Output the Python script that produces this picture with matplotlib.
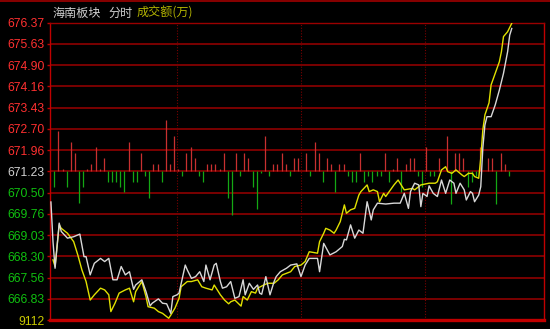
import matplotlib
matplotlib.use('Agg')

from matplotlib import pyplot as plt
from matplotlib.lines import Line2D
import numpy as np

# price grid (prev close in the middle)
prev_close = 671.23
step = 0.7343
price_labels = ['666.83', '667.56', '668.30', '669.03', '669.76', '670.50',
                '671.23', '671.96', '672.70', '673.43', '674.16', '674.90',
                '675.63', '676.37']
amt_max = 9112

# 海南板块 (white) minute -> price
white_t = [-1, 0, 1, 3, 4, 7, 10, 13, 15, 16, 18, 20, 23, 25, 27, 29, 31, 33, 35, 37,
           39, 40, 43, 45, 47, 48, 51, 53, 55, 57, 58, 60, 61, 64, 65, 67, 69, 71, 73, 74,
           76, 78, 79, 81, 82, 84, 86, 88, 90, 92, 93, 95, 97, 99, 100, 101, 103, 105, 107, 108,
           110, 113, 115, 118, 120, 122, 124, 128, 129, 131, 134, 137, 140, 141, 142, 144, 146, 148, 150, 152,
           154, 155, 157, 161, 165, 168, 170, 172, 173, 175, 177, 178, 179, 181, 182, 184, 186, 188, 189, 190,
           192, 194, 195, 197, 199, 200, 202, 203, 204, 206, 207, 208, 209, 210, 212, 214, 216, 218, 220, 221,
           222]
white_p = [670.17, 668.80, 667.88, 669.44, 669.15, 668.92, 668.97, 669.06, 668.28, 668.28,
           667.65, 668.05, 668.22, 668.11, 668.22, 667.48, 667.48, 667.94, 667.65, 667.76,
           667.15, 667.30, 667.48, 667.07, 666.58, 666.67, 666.82, 666.67, 666.65, 666.32,
           666.90, 666.96, 667.02, 667.99, 667.82, 667.53, 667.59, 667.76, 667.42, 667.99,
           667.48, 667.99, 668.05, 667.42, 667.19, 667.24, 667.42, 666.84, 666.90, 667.48,
           666.96, 667.36, 667.15, 667.30, 667.02, 666.98, 667.59, 666.96, 667.42, 667.59,
           667.76, 667.88, 667.99, 668.03, 667.59, 667.99, 668.22, 668.22, 667.76, 668.74,
           668.34, 668.45, 668.63, 668.88, 668.86, 669.38, 668.92, 669.20, 669.09, 670.18,
           669.55, 669.90, 670.13, 670.10, 670.13, 670.13, 670.47, 669.95, 670.53, 670.82,
           670.76, 670.01, 670.47, 670.36, 670.73, 670.47, 670.36, 670.93, 670.70, 670.47,
           670.93, 670.82, 670.47, 670.82, 670.59, 670.24, 670.53, 670.47, 670.18, 670.41,
           670.70, 672.04, 672.83, 673.12, 673.12, 673.53, 674.04, 674.62, 675.37, 675.94,
           676.17]

# yellow line
yellow_t = [0, 1, 3, 4, 7, 10, 12, 14, 16, 18, 20, 23, 25, 27, 28, 30, 32, 35, 37, 39,
            40, 43, 45, 46, 49, 51, 53, 56, 57, 59, 61, 62, 65, 67, 70, 72, 74, 77, 78, 81,
            83, 85, 86, 88, 91, 92, 94, 96, 98, 99, 102, 104, 107, 109, 111, 115, 117, 120, 122, 124,
            128, 129, 131, 132, 134, 136, 137, 139, 141, 142, 144, 146, 148, 149, 152, 153, 155, 157, 158, 160,
            161, 165, 167, 169, 170, 174, 175, 178, 182, 185, 186, 188, 190, 191, 193, 195, 196, 198, 199, 201,
            203, 204, 206, 207, 208, 209, 211, 212, 214, 216, 217, 218, 220, 222]
yellow_p = [668.17, 667.94, 669.38, 669.26, 669.09, 668.80, 668.34, 667.82, 667.42, 666.78,
            666.96, 667.19, 667.13, 666.96, 666.38, 666.67, 667.02, 667.13, 667.19, 666.72,
            667.07, 667.42, 666.90, 666.55, 666.50, 666.38, 666.32, 666.15, 666.26, 666.50,
            666.84, 667.24, 667.42, 667.42, 667.48, 667.24, 667.19, 667.13, 667.30, 666.96,
            666.78, 666.65, 666.72, 666.78, 666.57, 666.90, 666.78, 667.07, 667.02, 667.19,
            667.30, 667.36, 667.36, 667.48, 667.65, 667.76, 667.94, 667.99, 668.11, 668.45,
            668.40, 668.80, 669.09, 669.26, 669.20, 669.09, 669.20, 669.49, 670.07, 669.78,
            669.90, 669.95, 670.41, 670.53, 670.76, 670.53, 670.59, 670.53, 670.18, 670.47,
            670.36, 670.76, 670.93, 670.70, 670.59, 670.64, 670.59, 670.76, 670.82, 670.82,
            670.87, 671.28, 671.39, 671.22, 671.16, 671.28, 671.22, 671.10, 671.05, 671.16,
            671.16, 671.05, 670.99, 671.69, 672.66, 673.18, 673.60, 674.22, 674.62, 675.02,
            675.37, 675.89, 676.06, 676.35]

# 成交额 bars, one slot = 2 minutes, + red / - green
bar_slot = [0, 1, 2, 3, 4, 5, 6, 7, 8, 9, 10, 11, 12, 13, 14, 15, 16, 17, 18, 19,
            20, 21, 22, 23, 24, 25, 26, 27, 28, 29, 30, 31, 32, 33, 34, 35, 36, 37, 38, 39,
            40, 41, 42, 43, 44, 45, 46, 47, 48, 49, 50, 51, 52, 53, 54, 55, 56, 57, 58, 59,
            61, 62, 63, 64, 65, 66, 67, 68, 69, 70, 71, 72, 73, 74, 75, 76, 77, 78, 79, 80,
            81, 82, 83, 84, 85, 86, 87, 88, 89, 90, 91, 92, 93, 95, 96, 97, 98, 99, 100, 101,
            102, 103, 105, 106, 107, 108, 109, 110]
bar_amt = [-980, 2450, 120, -980, 1780, 1100, -1960, -980, 120, 430, 1470, 120, 800, -670, -670, -670, -980, -1290, 1780, -670,
           -670, 1100, -310, -1650, 430, 430, -670, 3130, 430, 2150, 120, -310, 1100, 1470, 800, -310, -670, 430, 430, 430,
           120, 1100, -1650, -2700, 1100, -310, 1100, 800, -980, -2330, -120, 2150, -310, 430, 430, 1100, 430, -310, 800, 800,
           1100, -310, 1780, 1100, -670, 800, 430, -1290, 430, 430, -310, -670, -670, 1100, -670, -310, -670, -310, -310, 1100,
           -670, 120, 800, -1290, 430, 800, 800, -310, -980, 1470, -310, -310, 800, 2150, -2020, 1100, 1100, 800, -980, -670,
           -310, 1470, 800, 800, -2020, 1100, 430, -310]

plt.rcParams['font.family'] = ['Liberation Sans', 'DejaVu Sans']

fig = plt.figure(figsize=(5.5, 3.29), dpi=100, facecolor='black')
ax = fig.add_axes([50 / 550, 9 / 329, 494 / 550, 297.3 / 329])
ax.set_facecolor('black')

lo = prev_close - 7 * step
hi = prev_close + 7 * step
ax.set_ylim(lo, hi)
ax.set_xlim(-1.45, 237.6)

grid_c = '#9a0000'
for k in range(1, 15):
    ax.axhline(lo + k * step, color=grid_c, lw=1.1, zorder=1)
for t in (60, 120, 180):
    ax.axvline(t, color='#7a0000', lw=0.8, ls=(0, (1, 1.5)), zorder=1)

# bars around prev close line
scale = 7 * step / amt_max
bx = 2 * np.array(bar_slot) + 0.6
ba = np.array(bar_amt, dtype=float)
up = ba > 0
ax.vlines(bx[up], prev_close, prev_close + ba[up] * scale, color='#c83030', lw=0.9, zorder=2)
ax.vlines(bx[~up], prev_close, prev_close + ba[~up] * scale, color='#14a814', lw=0.9, zorder=2)

ax.plot(yellow_t, yellow_p, color='#e0e000', lw=1.0, zorder=3)
ax.plot(white_t, white_p, color='#d8d8d8', lw=1.0, zorder=4)

for s in ('left', 'right', 'top'):
    ax.spines[s].set_color('#c00000')
    ax.spines[s].set_linewidth(1.0)
ax.spines['top'].set_color(grid_c)
ax.spines['bottom'].set_color('#c00000')
ax.spines['bottom'].set_linewidth(2.4)

ax.set_xticks([])
ticks = [lo + k * step for k in range(15)]
ax.set_yticks(ticks)
ax.set_yticklabels([str(amt_max)] + price_labels, fontsize=8.7)
ax.tick_params(axis='y', colors='#c00000', length=2.5, width=1, pad=1.5)
for i, lab in enumerate(ax.get_yticklabels()):
    if i == 0:
        lab.set_color('#c8c800')
    elif i < 7:
        lab.set_color('#10c010')
    elif i == 7:
        lab.set_color('#d0d0d0')
    else:
        lab.set_color('#ff3030')

fig.add_artist(Line2D([0, 1], [0.998, 0.998], color='#a00000', lw=1.2))

cjk = ['Noto Sans CJK SC', 'DejaVu Sans']
fig.text(52 / 550, 1 - 13 / 329, '海南板块', color='#d0d0d0', fontsize=8.7, family=cjk, va='center')
fig.text(108 / 550, 1 - 13 / 329, '分时', color='#d0d0d0', fontsize=8.7, family=cjk, va='center')
fig.text(137 / 550, 1 - 13 / 329, '成交额(万)', color='#b4b400', fontsize=8.7, family=cjk, va='center')

fig.savefig('out.png', dpi=100, facecolor='black')
